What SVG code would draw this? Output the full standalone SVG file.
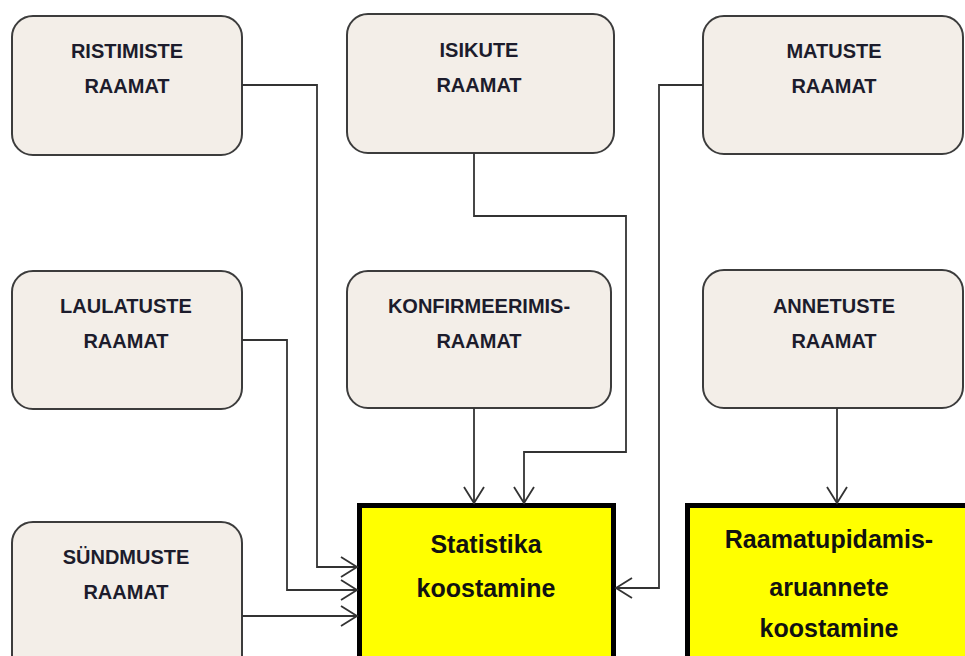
<svg xmlns="http://www.w3.org/2000/svg" width="965" height="656" viewBox="0 0 965 656">
<style>
.box{fill:#F3EEE8;stroke:#3c3c3c;stroke-width:2}
.main{fill:#FFFF00;stroke:#000;stroke-width:5}
.t{font-family:"Liberation Sans",Arial,sans-serif;font-weight:bold;font-size:20px;fill:#1c1c2c;text-anchor:middle}
.tm{font-family:"Liberation Sans",Arial,sans-serif;font-weight:bold;font-size:25px;fill:#111;text-anchor:middle}
.c{fill:none;stroke:#333;stroke-width:1.8}
</style>
<defs>
<marker id="ah" markerUnits="userSpaceOnUse" markerWidth="22" markerHeight="24" viewBox="-18 -12 20 24" refX="0" refY="0" orient="auto">
<path d="M-16,-10 L0,0 L-16,10" fill="none" stroke="#333" stroke-width="1.8"/>
</marker>
</defs>
<g id="n-ristimiste"><rect class="box" x="12" y="16" width="230" height="139" rx="21"/><text class="t" x="127" y="58">RISTIMISTE</text><text class="t" x="127" y="93">RAAMAT</text></g>
<g id="n-isikute"><rect class="box" x="347" y="14" width="267" height="139" rx="21"/><text class="t" x="479" y="57">ISIKUTE</text><text class="t" x="479" y="92">RAAMAT</text></g>
<g id="n-matuste"><rect class="box" x="703" y="16" width="260" height="138" rx="21"/><text class="t" x="834" y="58">MATUSTE</text><text class="t" x="834" y="93">RAAMAT</text></g>
<g id="n-laulatuste"><rect class="box" x="12" y="271" width="230" height="138" rx="21"/><text class="t" x="126" y="313">LAULATUSTE</text><text class="t" x="126" y="348">RAAMAT</text></g>
<g id="n-konfirmeerimis"><rect class="box" x="347" y="271" width="264" height="137" rx="21"/><text class="t" x="479" y="313">KONFIRMEERIMIS-</text><text class="t" x="479" y="348">RAAMAT</text></g>
<g id="n-annetuste"><rect class="box" x="703" y="270" width="260" height="138" rx="21"/><text class="t" x="834" y="313">ANNETUSTE</text><text class="t" x="834" y="348">RAAMAT</text></g>
<g id="n-sundmuste"><rect class="box" x="12" y="522" width="230" height="160" rx="21"/><text class="t" x="126" y="564">SÜNDMUSTE</text><text class="t" x="126" y="599">RAAMAT</text></g>
<g id="n-statistika"><rect class="main" x="359.5" y="505.5" width="254" height="180"/><text class="tm" x="486" y="553">Statistika</text><text class="tm" x="486" y="597">koostamine</text></g>
<g id="n-raamatupidamis"><rect class="main" x="687.5" y="505.5" width="300" height="180"/><text class="tm" x="829" y="548">Raamatupidamis-</text><text class="tm" x="829" y="596">aruannete</text><text class="tm" x="829" y="637">koostamine</text></g>
<g id="connectors">
<path class="c" marker-end="url(#ah)" d="M242,85 H317 V567 H357"/>
<path class="c" marker-end="url(#ah)" d="M242,340 H287 V590 H357"/>
<path class="c" marker-end="url(#ah)" d="M242,616 H357"/>
<path class="c" marker-end="url(#ah)" d="M474,153 V216 H626 V452 H524 V503"/>
<path class="c" marker-end="url(#ah)" d="M474,408 V503"/>
<path class="c" marker-end="url(#ah)" d="M703,85 H659 V588 H616"/>
<path class="c" marker-end="url(#ah)" d="M837,408 V503"/>
</g>
</svg>
